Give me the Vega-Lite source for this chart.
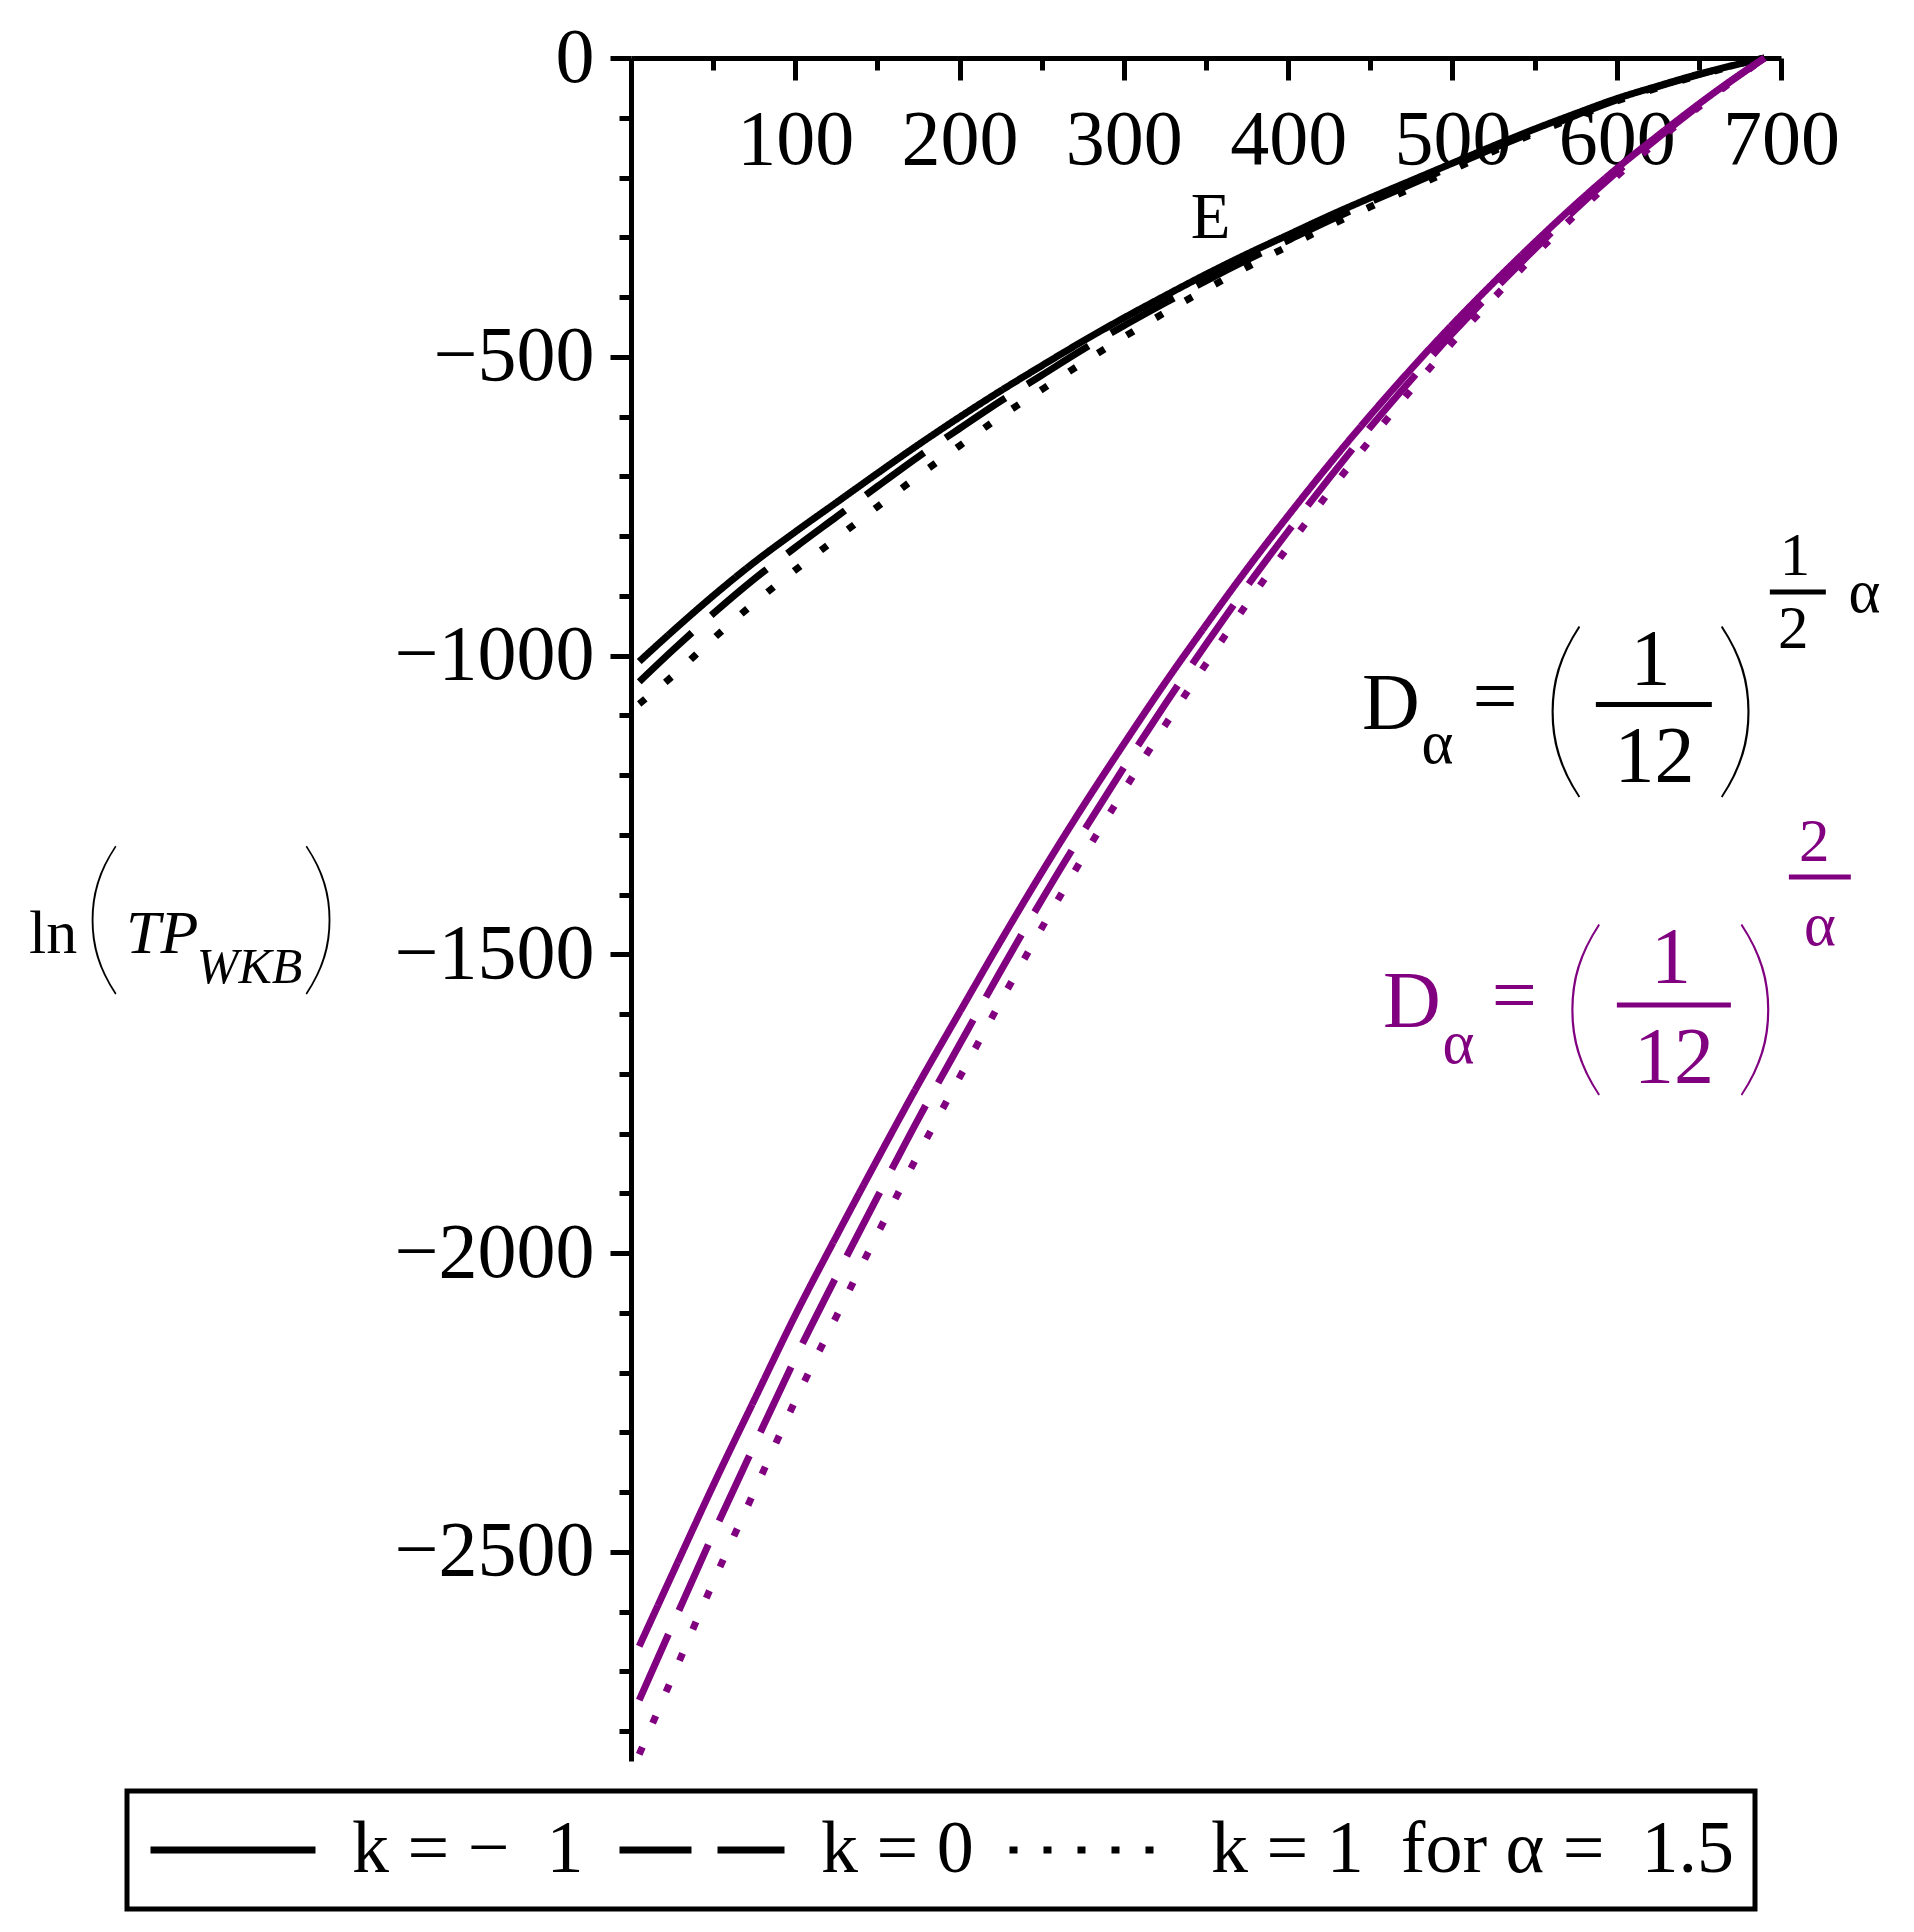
{
  "$schema": "https://vega.github.io/schema/vega-lite/v6.json",
  "width": 1150,
  "height": 1703,
  "autosize": {"type": "none"},
  "padding": {"left": 631, "top": 58, "right": 133, "bottom": 171},
  "background": "white",
  "config": {"view": {"stroke": null}, "font": "Liberation Serif", "legend": {"strokeWidth": 5}},
  "datasets": {
    "curves": [
      {"E":5,"v":-1010,"k":"-1","D":"a/2"},{"E":25,"v":-960,"k":"-1","D":"a/2"},{"E":50,"v":-900,"k":"-1","D":"a/2"},{"E":75,"v":-844,"k":"-1","D":"a/2"},{"E":100,"v":-793,"k":"-1","D":"a/2"},{"E":125,"v":-744,"k":"-1","D":"a/2"},{"E":150,"v":-695,"k":"-1","D":"a/2"},{"E":175,"v":-647,"k":"-1","D":"a/2"},{"E":200,"v":-601,"k":"-1","D":"a/2"},{"E":225,"v":-557,"k":"-1","D":"a/2"},{"E":250,"v":-515,"k":"-1","D":"a/2"},{"E":275,"v":-474,"k":"-1","D":"a/2"},{"E":300,"v":-435,"k":"-1","D":"a/2"},{"E":325,"v":-398,"k":"-1","D":"a/2"},{"E":350,"v":-362,"k":"-1","D":"a/2"},{"E":375,"v":-328,"k":"-1","D":"a/2"},{"E":400,"v":-296,"k":"-1","D":"a/2"},{"E":425,"v":-264,"k":"-1","D":"a/2"},{"E":450,"v":-234,"k":"-1","D":"a/2"},{"E":475,"v":-205,"k":"-1","D":"a/2"},{"E":500,"v":-176,"k":"-1","D":"a/2"},{"E":525,"v":-147,"k":"-1","D":"a/2"},{"E":550,"v":-119,"k":"-1","D":"a/2"},{"E":575,"v":-93,"k":"-1","D":"a/2"},{"E":600,"v":-68,"k":"-1","D":"a/2"},{"E":625,"v":-47,"k":"-1","D":"a/2"},{"E":650,"v":-27,"k":"-1","D":"a/2"},{"E":670,"v":-13,"k":"-1","D":"a/2"},{"E":690,"v":0,"k":"-1","D":"a/2"},
      {"E":5,"v":-1044,"k":"0","D":"a/2"},{"E":25,"v":-992,"k":"0","D":"a/2"},{"E":50,"v":-930,"k":"0","D":"a/2"},{"E":75,"v":-872,"k":"0","D":"a/2"},{"E":100,"v":-819,"k":"0","D":"a/2"},{"E":125,"v":-768,"k":"0","D":"a/2"},{"E":150,"v":-717,"k":"0","D":"a/2"},{"E":175,"v":-667,"k":"0","D":"a/2"},{"E":200,"v":-620,"k":"0","D":"a/2"},{"E":225,"v":-574,"k":"0","D":"a/2"},{"E":250,"v":-531,"k":"0","D":"a/2"},{"E":275,"v":-488,"k":"0","D":"a/2"},{"E":300,"v":-448,"k":"0","D":"a/2"},{"E":325,"v":-410,"k":"0","D":"a/2"},{"E":350,"v":-373,"k":"0","D":"a/2"},{"E":375,"v":-338,"k":"0","D":"a/2"},{"E":400,"v":-305,"k":"0","D":"a/2"},{"E":425,"v":-272,"k":"0","D":"a/2"},{"E":450,"v":-241,"k":"0","D":"a/2"},{"E":475,"v":-211,"k":"0","D":"a/2"},{"E":500,"v":-181,"k":"0","D":"a/2"},{"E":525,"v":-151,"k":"0","D":"a/2"},{"E":550,"v":-123,"k":"0","D":"a/2"},{"E":575,"v":-96,"k":"0","D":"a/2"},{"E":600,"v":-70,"k":"0","D":"a/2"},{"E":625,"v":-48,"k":"0","D":"a/2"},{"E":650,"v":-28,"k":"0","D":"a/2"},{"E":670,"v":-13,"k":"0","D":"a/2"},{"E":690,"v":0,"k":"0","D":"a/2"},
      {"E":5,"v":-1081,"k":"1","D":"a/2"},{"E":25,"v":-1035,"k":"1","D":"a/2"},{"E":50,"v":-972,"k":"1","D":"a/2"},{"E":75,"v":-912,"k":"1","D":"a/2"},{"E":100,"v":-857,"k":"1","D":"a/2"},{"E":125,"v":-804,"k":"1","D":"a/2"},{"E":150,"v":-751,"k":"1","D":"a/2"},{"E":175,"v":-699,"k":"1","D":"a/2"},{"E":200,"v":-649,"k":"1","D":"a/2"},{"E":225,"v":-600,"k":"1","D":"a/2"},{"E":250,"v":-555,"k":"1","D":"a/2"},{"E":275,"v":-510,"k":"1","D":"a/2"},{"E":300,"v":-467,"k":"1","D":"a/2"},{"E":325,"v":-426,"k":"1","D":"a/2"},{"E":350,"v":-387,"k":"1","D":"a/2"},{"E":375,"v":-350,"k":"1","D":"a/2"},{"E":400,"v":-315,"k":"1","D":"a/2"},{"E":425,"v":-281,"k":"1","D":"a/2"},{"E":450,"v":-249,"k":"1","D":"a/2"},{"E":475,"v":-218,"k":"1","D":"a/2"},{"E":500,"v":-187,"k":"1","D":"a/2"},{"E":525,"v":-156,"k":"1","D":"a/2"},{"E":550,"v":-126,"k":"1","D":"a/2"},{"E":575,"v":-99,"k":"1","D":"a/2"},{"E":600,"v":-72,"k":"1","D":"a/2"},{"E":625,"v":-50,"k":"1","D":"a/2"},{"E":650,"v":-29,"k":"1","D":"a/2"},{"E":670,"v":-14,"k":"1","D":"a/2"},{"E":690,"v":0,"k":"1","D":"a/2"},
      {"E":5,"v":-2658,"k":"-1","D":"2/a"},{"E":25,"v":-2538,"k":"-1","D":"2/a"},{"E":50,"v":-2389,"k":"-1","D":"2/a"},{"E":75,"v":-2246,"k":"-1","D":"2/a"},{"E":100,"v":-2104,"k":"-1","D":"2/a"},{"E":125,"v":-1972,"k":"-1","D":"2/a"},{"E":150,"v":-1843,"k":"-1","D":"2/a"},{"E":175,"v":-1717,"k":"-1","D":"2/a"},{"E":200,"v":-1597,"k":"-1","D":"2/a"},{"E":225,"v":-1478,"k":"-1","D":"2/a"},{"E":250,"v":-1363,"k":"-1","D":"2/a"},{"E":275,"v":-1253,"k":"-1","D":"2/a"},{"E":300,"v":-1148,"k":"-1","D":"2/a"},{"E":325,"v":-1046,"k":"-1","D":"2/a"},{"E":350,"v":-949,"k":"-1","D":"2/a"},{"E":375,"v":-855,"k":"-1","D":"2/a"},{"E":400,"v":-766,"k":"-1","D":"2/a"},{"E":425,"v":-680,"k":"-1","D":"2/a"},{"E":450,"v":-598,"k":"-1","D":"2/a"},{"E":475,"v":-520,"k":"-1","D":"2/a"},{"E":500,"v":-446,"k":"-1","D":"2/a"},{"E":525,"v":-376,"k":"-1","D":"2/a"},{"E":550,"v":-309,"k":"-1","D":"2/a"},{"E":575,"v":-245,"k":"-1","D":"2/a"},{"E":600,"v":-185,"k":"-1","D":"2/a"},{"E":625,"v":-130,"k":"-1","D":"2/a"},{"E":650,"v":-77,"k":"-1","D":"2/a"},{"E":670,"v":-37,"k":"-1","D":"2/a"},{"E":690,"v":0,"k":"-1","D":"2/a"},
      {"E":5,"v":-2748,"k":"0","D":"2/a"},{"E":25,"v":-2624,"k":"0","D":"2/a"},{"E":50,"v":-2470,"k":"0","D":"2/a"},{"E":75,"v":-2322,"k":"0","D":"2/a"},{"E":100,"v":-2176,"k":"0","D":"2/a"},{"E":125,"v":-2039,"k":"0","D":"2/a"},{"E":150,"v":-1906,"k":"0","D":"2/a"},{"E":175,"v":-1775,"k":"0","D":"2/a"},{"E":200,"v":-1651,"k":"0","D":"2/a"},{"E":225,"v":-1528,"k":"0","D":"2/a"},{"E":250,"v":-1409,"k":"0","D":"2/a"},{"E":275,"v":-1296,"k":"0","D":"2/a"},{"E":300,"v":-1187,"k":"0","D":"2/a"},{"E":325,"v":-1082,"k":"0","D":"2/a"},{"E":350,"v":-981,"k":"0","D":"2/a"},{"E":375,"v":-884,"k":"0","D":"2/a"},{"E":400,"v":-792,"k":"0","D":"2/a"},{"E":425,"v":-703,"k":"0","D":"2/a"},{"E":450,"v":-618,"k":"0","D":"2/a"},{"E":475,"v":-538,"k":"0","D":"2/a"},{"E":500,"v":-461,"k":"0","D":"2/a"},{"E":525,"v":-389,"k":"0","D":"2/a"},{"E":550,"v":-320,"k":"0","D":"2/a"},{"E":575,"v":-253,"k":"0","D":"2/a"},{"E":600,"v":-191,"k":"0","D":"2/a"},{"E":625,"v":-134,"k":"0","D":"2/a"},{"E":650,"v":-80,"k":"0","D":"2/a"},{"E":670,"v":-38,"k":"0","D":"2/a"},{"E":690,"v":0,"k":"0","D":"2/a"},
      {"E":5,"v":-2839,"k":"1","D":"2/a"},{"E":25,"v":-2711,"k":"1","D":"2/a"},{"E":50,"v":-2551,"k":"1","D":"2/a"},{"E":75,"v":-2399,"k":"1","D":"2/a"},{"E":100,"v":-2247,"k":"1","D":"2/a"},{"E":125,"v":-2106,"k":"1","D":"2/a"},{"E":150,"v":-1968,"k":"1","D":"2/a"},{"E":175,"v":-1834,"k":"1","D":"2/a"},{"E":200,"v":-1706,"k":"1","D":"2/a"},{"E":225,"v":-1579,"k":"1","D":"2/a"},{"E":250,"v":-1456,"k":"1","D":"2/a"},{"E":275,"v":-1338,"k":"1","D":"2/a"},{"E":300,"v":-1226,"k":"1","D":"2/a"},{"E":325,"v":-1117,"k":"1","D":"2/a"},{"E":350,"v":-1014,"k":"1","D":"2/a"},{"E":375,"v":-913,"k":"1","D":"2/a"},{"E":400,"v":-818,"k":"1","D":"2/a"},{"E":425,"v":-726,"k":"1","D":"2/a"},{"E":450,"v":-639,"k":"1","D":"2/a"},{"E":475,"v":-555,"k":"1","D":"2/a"},{"E":500,"v":-476,"k":"1","D":"2/a"},{"E":525,"v":-402,"k":"1","D":"2/a"},{"E":550,"v":-330,"k":"1","D":"2/a"},{"E":575,"v":-262,"k":"1","D":"2/a"},{"E":600,"v":-198,"k":"1","D":"2/a"},{"E":625,"v":-139,"k":"1","D":"2/a"},{"E":650,"v":-82,"k":"1","D":"2/a"},{"E":670,"v":-40,"k":"1","D":"2/a"},{"E":690,"v":0,"k":"1","D":"2/a"}
    ],
    "fbig": [
      {"t":"D","E":462.6,"v":-1122.8,"D":"a/2"},{"t":"=","E":525.9,"v":-1113,"D":"a/2"},{"t":"1","E":620.5,"v":-1049,"D":"a/2"},{"t":"12","E":623,"v":-1211.5,"D":"a/2"},
      {"t":"D","E":475.3,"v":-1621.5,"D":"2/a"},{"t":"=","E":537.7,"v":-1613,"D":"2/a"},{"t":"1","E":633,"v":-1548,"D":"2/a"},{"t":"12","E":634.8,"v":-1715,"D":"2/a"}
    ],
    "fsmall": [
      {"t":"α","E":490.9,"v":-1179.7,"D":"a/2"},{"t":"1","E":708.5,"v":-865,"D":"a/2"},{"t":"2","E":707.5,"v":-987,"D":"a/2"},{"t":"α","E":750.8,"v":-927,"D":"a/2"},
      {"t":"α","E":503.7,"v":-1681.7,"D":"2/a"},{"t":"2","E":720.3,"v":-1343.7,"D":"2/a"},{"t":"α","E":723.7,"v":-1484.3,"D":"2/a"}
    ],
    "fparen": [
      {"t":"(","E":567.6,"v":-1198.1,"D":"a/2"},{"t":")","E":673.5,"v":-1198.1,"D":"a/2"},
      {"t":"(","E":579.7,"v":-1696.8,"D":"2/a"},{"t":")","E":685.6,"v":-1696.8,"D":"2/a"}
    ],
    "fbars": [
      {"E":587.3,"E2":657.9,"v":-1081.8,"D":"a/2"},{"E":693.2,"E2":727.3,"v":-893.6,"D":"a/2"},
      {"E":600.1,"E2":669.5,"v":-1584.7,"D":"2/a"},{"E":704.8,"E2":742.5,"v":-1370.5,"D":"2/a"}
    ],
    "yln": [{"t":"ln","E":-351.8,"v":-1497.7}],
    "ytp": [{"t":"TP","E":-285.4,"v":-1497.7}],
    "ywkb": [{"t":"WKB","E":-232.2,"v":-1547.9}],
    "yparen": [{"t":"(","E":-322,"v":-1532.8},{"t":")","E":-189.3,"v":-1532.8}]
  },
  "layer": [
    {
      "data": {"name": "curves"},
      "mark": {"type": "line", "strokeWidth": 7, "strokeCap": "butt", "interpolate": "monotone"},
      "encoding": {
        "x": {"field": "E", "type": "quantitative", "scale": {"domain": [0, 700], "nice": false, "zero": false},
          "axis": {"orient": "bottom", "offset": -1703, "values": [100, 200, 300, 400, 500, 600, 700], "format": "d", "tickSize": 22, "tickWidth": 5, "domainWidth": 5, "tickColor": "black", "domainColor": "black", "labelFontSize": 78, "labelColor": "black", "labelFont": "Liberation Serif", "labelBaseline": "alphabetic", "labelPadding": 83, "labelFlush": false, "labelOverlap": false, "labelBound": false, "labelLimit": 500, "grid": false, "title": "E", "titleFont": "Liberation Serif", "titleFontSize": 65, "titleFontWeight": "normal", "titleColor": "black", "titleX": 579, "titleY": 179, "titleBaseline": "alphabetic", "titleAlign": "center", "titleAngle": 0}},
        "y": {"field": "v", "type": "quantitative", "scale": {"domain": [-2850, 0], "nice": false, "zero": false},
          "axis": {"orient": "left", "values": [-2500, -2000, -1500, -1000, -500, 0], "format": "d", "tickSize": 21, "tickWidth": 5, "domainWidth": 5, "tickColor": "black", "domainColor": "black", "labelFontSize": 78, "labelColor": "black", "labelFont": "Liberation Serif", "labelPadding": 16, "labelOverlap": false, "labelBound": false, "labelFlush": false, "labelLimit": 500, "grid": false, "title": null}},
        "color": {"field": "D", "type": "nominal", "scale": {"domain": ["a/2", "2/a"], "range": ["#000000", "#800080"]}, "legend": null},
        "strokeDash": {"field": "k", "type": "nominal", "scale": {"domain": ["-1", "0", "1"], "range": [[1, 0], [72, 26], [8, 26]]},
          "legend": {"orient": "none", "legendX": -504, "legendY": 1733, "direction": "horizontal", "columns": 3, "title": null, "labelFont": "Liberation Serif", "labelFontSize": 74, "labelColor": "black", "labelOffset": 33, "labelLimit": 2000, "columnPadding": 32, "symbolType": "stroke", "symbolSize": 27225, "symbolStrokeWidth": 7, "symbolStrokeColor": "black", "clipHeight": 78, "padding": 20, "strokeColor": "black",
            "labelExpr": "datum.label == '-1' ? 'k = −\u20021' : datum.label == '0' ? 'k = 0' : 'k = 1\u2002for α =\u20021.5'"}}
      }
    },
    {
      "data": {"name": "curves"},
      "mark": {"type": "point", "opacity": 0},
      "encoding": {
        "x": {"field": "E", "type": "quantitative", "scale": {"domain": [0, 700], "nice": false, "zero": false},
          "axis": {"orient": "bottom", "offset": -1703, "values": [50, 150, 250, 350, 450, 550, 650], "tickSize": 12, "tickWidth": 5, "tickColor": "black", "domain": false, "labels": false, "grid": false, "title": null}},
        "y": {"field": "v", "type": "quantitative", "scale": {"domain": [-2850, 0], "nice": false, "zero": false},
          "axis": {"orient": "left", "values": [-2800, -2700, -2600, -2400, -2300, -2200, -2100, -1900, -1800, -1700, -1600, -1400, -1300, -1200, -1100, -900, -800, -700, -600, -400, -300, -200, -100], "tickSize": 12, "tickWidth": 5, "tickColor": "black", "domain": false, "labels": false, "grid": false, "title": null}}
      }
    },
    {
      "data": {"name": "fbig"},
      "mark": {"type": "text", "font": "Liberation Serif", "fontSize": 80, "align": "center", "baseline": "alphabetic"},
      "encoding": {
        "x": {"field": "E", "type": "quantitative", "scale": {"domain": [0, 700], "nice": false, "zero": false}, "axis": null},
        "y": {"field": "v", "type": "quantitative", "scale": {"domain": [-2850, 0], "nice": false, "zero": false}, "axis": null},
        "text": {"field": "t"},
        "color": {"field": "D", "type": "nominal", "scale": {"domain": ["a/2", "2/a"], "range": ["#000000", "#800080"]}, "legend": null}
      }
    },
    {
      "data": {"name": "fsmall"},
      "mark": {"type": "text", "font": "Liberation Serif", "fontSize": 61, "align": "center", "baseline": "alphabetic"},
      "encoding": {
        "x": {"field": "E", "type": "quantitative", "scale": {"domain": [0, 700], "nice": false, "zero": false}, "axis": null},
        "y": {"field": "v", "type": "quantitative", "scale": {"domain": [-2850, 0], "nice": false, "zero": false}, "axis": null},
        "text": {"field": "t"},
        "color": {"field": "D", "type": "nominal", "scale": {"domain": ["a/2", "2/a"], "range": ["#000000", "#800080"]}, "legend": null}
      }
    },
    {
      "data": {"name": "fparen"},
      "mark": {"type": "text", "font": "Lato", "fontWeight": 200, "fontSize": 196, "align": "center", "baseline": "alphabetic"},
      "encoding": {
        "x": {"field": "E", "type": "quantitative", "scale": {"domain": [0, 700], "nice": false, "zero": false}, "axis": null},
        "y": {"field": "v", "type": "quantitative", "scale": {"domain": [-2850, 0], "nice": false, "zero": false}, "axis": null},
        "text": {"field": "t"},
        "color": {"field": "D", "type": "nominal", "scale": {"domain": ["a/2", "2/a"], "range": ["#000000", "#800080"]}, "legend": null}
      }
    },
    {
      "data": {"name": "fbars"},
      "mark": {"type": "rule", "strokeWidth": 5},
      "encoding": {
        "x": {"field": "E", "type": "quantitative", "scale": {"domain": [0, 700], "nice": false, "zero": false}, "axis": null},
        "x2": {"field": "E2"},
        "y": {"field": "v", "type": "quantitative", "scale": {"domain": [-2850, 0], "nice": false, "zero": false}, "axis": null},
        "color": {"field": "D", "type": "nominal", "scale": {"domain": ["a/2", "2/a"], "range": ["#000000", "#800080"]}, "legend": null}
      }
    },
    {
      "data": {"name": "yln"},
      "mark": {"type": "text", "font": "Liberation Serif", "fontSize": 62, "align": "center", "baseline": "alphabetic", "color": "black"},
      "encoding": {
        "x": {"field": "E", "type": "quantitative", "scale": {"domain": [0, 700], "nice": false, "zero": false}, "axis": null},
        "y": {"field": "v", "type": "quantitative", "scale": {"domain": [-2850, 0], "nice": false, "zero": false}, "axis": null},
        "text": {"field": "t"}
      }
    },
    {
      "data": {"name": "ytp"},
      "mark": {"type": "text", "font": "Liberation Serif", "fontStyle": "italic", "fontSize": 62, "align": "center", "baseline": "alphabetic", "color": "black"},
      "encoding": {
        "x": {"field": "E", "type": "quantitative", "scale": {"domain": [0, 700], "nice": false, "zero": false}, "axis": null},
        "y": {"field": "v", "type": "quantitative", "scale": {"domain": [-2850, 0], "nice": false, "zero": false}, "axis": null},
        "text": {"field": "t"}
      }
    },
    {
      "data": {"name": "ywkb"},
      "mark": {"type": "text", "font": "Liberation Serif", "fontStyle": "italic", "fontSize": 50, "align": "center", "baseline": "alphabetic", "color": "black"},
      "encoding": {
        "x": {"field": "E", "type": "quantitative", "scale": {"domain": [0, 700], "nice": false, "zero": false}, "axis": null},
        "y": {"field": "v", "type": "quantitative", "scale": {"domain": [-2850, 0], "nice": false, "zero": false}, "axis": null},
        "text": {"field": "t"}
      }
    },
    {
      "data": {"name": "yparen"},
      "mark": {"type": "text", "font": "Lato", "fontWeight": 200, "fontSize": 170, "align": "center", "baseline": "alphabetic", "color": "black"},
      "encoding": {
        "x": {"field": "E", "type": "quantitative", "scale": {"domain": [0, 700], "nice": false, "zero": false}, "axis": null},
        "y": {"field": "v", "type": "quantitative", "scale": {"domain": [-2850, 0], "nice": false, "zero": false}, "axis": null},
        "text": {"field": "t"}
      }
    }
  ],
  "resolve": {"axis": {"x": "independent", "y": "independent"}}
}
